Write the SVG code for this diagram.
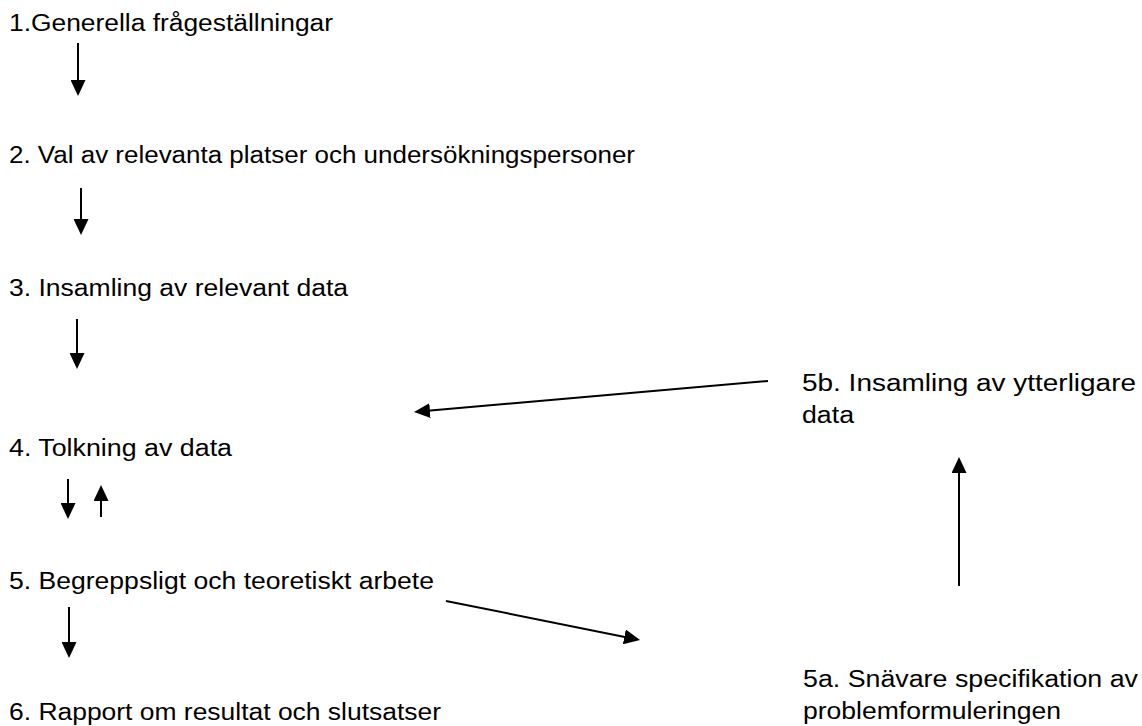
<svg xmlns="http://www.w3.org/2000/svg" width="1142" height="726" viewBox="0 0 1142 726">
<style>
text{font-family:"Liberation Sans",Arial,sans-serif;font-size:23px;fill:#000}
.c{stroke:#000;stroke-width:2;fill:none;marker-end:url(#ah)}
</style>
<defs>
<marker id="ah" viewBox="0 0 16 15" refX="8" refY="7.5" markerWidth="16" markerHeight="15" markerUnits="userSpaceOnUse" orient="auto">
<path d="M0,0 L16,7.5 L0,15 z" fill="#000"/>
</marker>
</defs>
<rect width="1142" height="726" fill="#fff"/>
<g id="n1"><text x="9" y="31" textLength="324" lengthAdjust="spacingAndGlyphs">1.Generella frågeställningar</text></g>
<g id="n2"><text x="9" y="163" textLength="626" lengthAdjust="spacingAndGlyphs">2. Val av relevanta platser och undersökningspersoner</text></g>
<g id="n3"><text x="9" y="296" textLength="339" lengthAdjust="spacingAndGlyphs">3. Insamling av relevant data</text></g>
<g id="n4"><text x="9" y="456" textLength="223" lengthAdjust="spacingAndGlyphs">4. Tolkning av data</text></g>
<g id="n5"><text x="9" y="589" textLength="425" lengthAdjust="spacingAndGlyphs">5. Begreppsligt och teoretiskt arbete</text></g>
<g id="n6"><text x="9" y="720" textLength="432" lengthAdjust="spacingAndGlyphs">6. Rapport om resultat och slutsatser</text></g>
<g id="n5b"><text x="802" y="391" textLength="334" lengthAdjust="spacingAndGlyphs">5b. Insamling av ytterligare</text><text x="802" y="423" textLength="52" lengthAdjust="spacingAndGlyphs">data</text></g>
<g id="n5a"><text x="803" y="687" textLength="335" lengthAdjust="spacingAndGlyphs">5a. Snävare specifikation av</text><text x="803" y="719" textLength="258" lengthAdjust="spacingAndGlyphs">problemformuleringen</text></g>
<g id="connectors">
<line class="c" x1="78" y1="43" x2="78" y2="88"/>
<line class="c" x1="81" y1="188" x2="81" y2="227"/>
<line class="c" x1="77" y1="319" x2="77" y2="361"/>
<line class="c" x1="68" y1="479" x2="68" y2="511"/>
<line class="c" x1="101" y1="517" x2="101" y2="493"/>
<line class="c" x1="69" y1="607" x2="69" y2="650"/>
<line class="c" x1="768" y1="381" x2="422" y2="411.3"/>
<line class="c" x1="446" y1="601" x2="632.2" y2="638.4"/>
<line class="c" x1="959" y1="586" x2="959" y2="465"/>
</g>
</svg>
